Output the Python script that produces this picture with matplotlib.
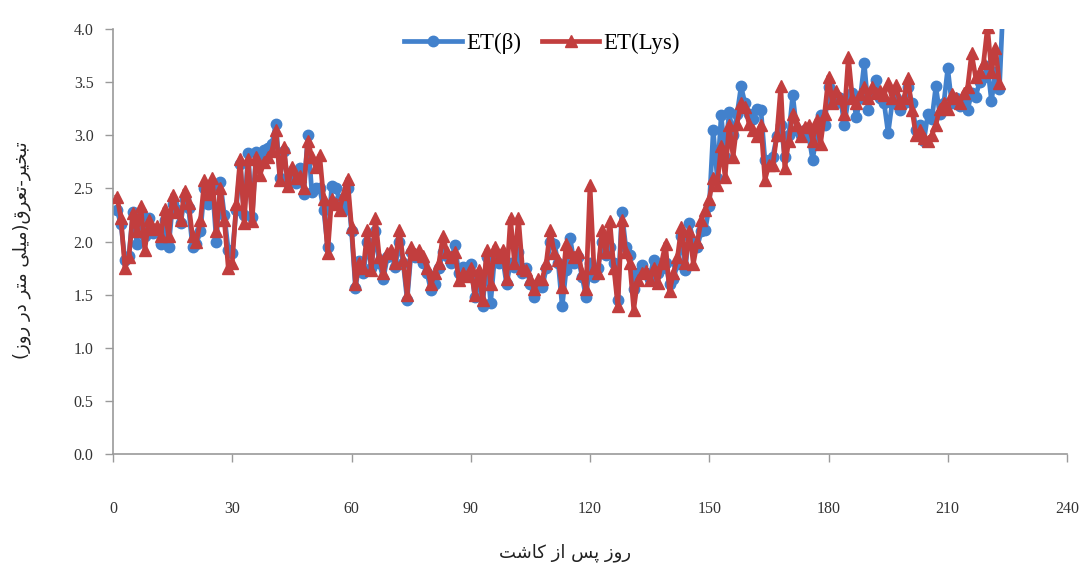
import matplotlib
matplotlib.use("Agg")
import matplotlib.pyplot as plt
from matplotlib.ticker import FormatStrFormatter

# ---- data ----
days_beta = list(range(1, 225))
et_beta = [
    2.30, 2.16, 1.83, 1.86, 2.28, 1.98, 2.28, 2.05, 2.22, 2.08,
    2.10, 1.98, 2.20, 1.95, 2.35, 2.30, 2.17, 2.40, 2.32, 1.95,
    1.98, 2.10, 2.50, 2.35, 2.52, 2.00, 2.56, 2.25, 1.92, 1.89,
    2.30, 2.73, 2.25, 2.83, 2.23, 2.84, 2.80, 2.86, 2.88, 2.92,
    3.11, 2.60, 2.85, 2.55, 2.65, 2.55, 2.69, 2.45, 3.00, 2.47,
    2.50, 2.50, 2.30, 1.95, 2.52, 2.50, 2.40, 2.30, 2.50, 2.10,
    1.56, 1.82, 1.70, 2.00, 1.75, 2.10, 1.80, 1.65, 1.85, 1.88,
    1.76, 2.00, 1.80, 1.45, 1.90, 1.85, 1.85, 1.80, 1.70, 1.54,
    1.60, 1.75, 1.90, 1.86, 1.80, 1.97, 1.70, 1.76, 1.72, 1.79,
    1.48, 1.65, 1.39, 1.85, 1.42, 1.85, 1.80, 1.85, 1.60, 1.80,
    1.76, 1.90, 1.70, 1.75, 1.60, 1.48, 1.60, 1.57, 1.75, 2.00,
    1.98, 1.80, 1.39, 1.73, 2.03, 1.80, 1.85, 1.67, 1.48, 1.80,
    1.67, 1.75, 2.00, 1.87, 1.95, 1.80, 1.45, 2.28, 1.95, 1.87,
    1.55, 1.70, 1.78, 1.70, 1.65, 1.83, 1.70, 1.75, 1.80, 1.60,
    1.65, 1.79, 2.05, 1.73, 2.17, 2.00, 1.95, 2.10, 2.11, 2.33,
    3.05, 2.60, 3.19, 2.80, 3.22, 3.00, 3.20, 3.46, 3.30, 3.20,
    3.15, 3.25, 3.24, 2.77, 2.73, 2.80, 2.99, 3.10, 2.80, 3.00,
    3.38, 3.05, 3.00, 3.05, 3.00, 2.77, 3.00, 3.19, 3.10, 3.45,
    3.33, 3.30, 3.35, 3.10, 3.35, 3.40, 3.17, 3.35, 3.68, 3.24,
    3.40, 3.52, 3.35, 3.30, 3.02, 3.30, 3.35, 3.24, 3.30, 3.45,
    3.30, 3.05, 3.10, 2.95, 3.20, 3.15, 3.46, 3.20, 3.30, 3.63,
    3.30, 3.35, 3.28, 3.30, 3.24, 3.40, 3.36, 3.50, 3.55, 3.65,
    3.32, 3.60, 3.44, 4.30,
]

days_lys = list(range(1, 224))
et_lys = [
    2.42, 2.22, 1.75, 1.85, 2.27, 2.10, 2.33, 1.92, 2.20, 2.12,
    2.15, 2.05, 2.31, 2.05, 2.44, 2.28, 2.20, 2.48, 2.36, 2.05,
    2.00, 2.20, 2.58, 2.45, 2.60, 2.10, 2.50, 2.20, 1.75, 1.80,
    2.35, 2.78, 2.17, 2.78, 2.19, 2.80, 2.63, 2.75, 2.80, 2.85,
    3.05, 2.58, 2.89, 2.52, 2.70, 2.60, 2.62, 2.50, 2.95, 2.80,
    2.70, 2.81, 2.40, 1.89, 2.40, 2.35, 2.30, 2.45, 2.59, 2.14,
    1.60, 1.80, 1.75, 2.11, 1.73, 2.22, 1.85, 1.70, 1.89, 1.92,
    1.80, 2.11, 1.83, 1.50, 1.95, 1.88, 1.92, 1.86, 1.75, 1.60,
    1.70, 1.80, 2.05, 1.90, 1.85, 1.90, 1.64, 1.70, 1.68, 1.75,
    1.50, 1.73, 1.45, 1.92, 1.60, 1.95, 1.85, 1.92, 1.65, 2.22,
    1.80, 2.22, 1.75, 1.73, 1.65, 1.55, 1.65, 1.65, 1.80, 2.11,
    1.89, 1.83, 1.57, 1.98, 1.90, 1.85, 1.90, 1.70, 1.55, 2.53,
    1.75, 1.70, 2.11, 1.90, 2.19, 1.75, 1.39, 2.20, 1.90, 1.80,
    1.36, 1.64, 1.70, 1.72, 1.64, 1.75, 1.61, 1.80, 1.98, 1.53,
    1.70, 1.85, 2.14, 1.80, 2.10, 1.79, 2.00, 2.20, 2.30, 2.40,
    2.60, 2.53, 2.90, 2.61, 3.10, 2.80, 3.11, 3.30, 3.27, 3.11,
    3.05, 2.99, 3.10, 2.58, 2.72, 2.72, 3.00, 3.46, 2.69, 2.95,
    3.20, 3.10, 2.99, 3.08, 3.10, 2.95, 3.14, 2.92, 3.20, 3.55,
    3.30, 3.42, 3.35, 3.20, 3.74, 3.35, 3.30, 3.39, 3.45, 3.35,
    3.45, 3.40, 3.42, 3.38, 3.49, 3.35, 3.47, 3.30, 3.35, 3.54,
    3.24, 3.00, 3.05, 2.97, 2.95, 3.00, 3.10, 3.25, 3.30, 3.25,
    3.39, 3.35, 3.30, 3.40, 3.45, 3.77, 3.55, 3.60, 3.68, 4.02,
    3.60, 3.82, 3.49,
]

x_ticks = [0, 30, 60, 90, 120, 150, 180, 210, 240]
y_ticks = [0.0, 0.5, 1.0, 1.5, 2.0, 2.5, 3.0, 3.5, 4.0]
label_beta = "ET(\u03b2)"
label_lys = "ET(Lys)"

# Persian labels written in visual order with presentation forms
xlabel_fa = ("\uFE96\uFEB7\uFE8E\uFEDB" + " " + "\uFEAF\uFE8D" + " "
             + "\uFEB2\uFB58" + " " + "\uFEAF\uFEED\uFEAD")
ylabel_fa = ("(" + "\uFEAF\uFEED\uFEAD" + " " + "\uFEAD\uFEA9" + " "
             + "\uFEAE\uFE98\uFEE3" + " " + "\uFEF0\uFEE0\uFEF4\uFEE3"
             + ")" + "\uFED5\uFEAE\uFECC\uFE97" + "-"
             + "\uFEAE\uFEF4\uFEA8\uFE92\uFE97")

blue = "#4281CC"
red = "#C23E3E"

plt.rcParams["font.family"] = ["Liberation Serif", "DejaVu Serif"]

fig = plt.figure(figsize=(10.84, 5.72), dpi=100)
ax = fig.add_axes([113 / 1084, 1 - 454 / 572, (1067 - 113) / 1084, (454 - 29) / 572])

ax.plot(days_beta, et_beta, color=blue, lw=3.4, marker="o", ms=7.5,
        mec=blue, mfc=blue, label=label_beta, zorder=2, clip_on=True)
ax.plot(days_lys, et_lys, color=red, lw=3.4, marker="^", ms=8,
        mec=red, mfc=red, label=label_lys, zorder=3, clip_on=True)

ax.set_xlim(0, 240)
ax.set_ylim(0, 4.0)
ax.set_xticks(x_ticks)
ax.set_yticks(y_ticks)
ax.yaxis.set_major_formatter(FormatStrFormatter("%.1f"))

for s in ["top", "right"]:
    ax.spines[s].set_visible(False)
for s in ["left", "bottom"]:
    ax.spines[s].set_color("#9A9A9A")
    ax.spines[s].set_linewidth(1.2)

ax.tick_params(axis="x", direction="out", length=6, width=1, color="#9A9A9A",
               pad=28, labelsize=11.5, labelcolor="#333333")
ax.tick_params(axis="y", direction="out", length=6, width=1, color="#9A9A9A",
               pad=8, labelsize=11.5, labelcolor="#333333")

leg = ax.legend(loc="center", bbox_to_anchor=(0.45, 0.965), ncol=2,
                frameon=False, fontsize=16.5, handlelength=2.5,
                columnspacing=0.9, handletextpad=0.2)

fig.text(565 / 1084, 1 - 553 / 572, xlabel_fa, family=["DejaVu Sans"],
         fontsize=13, ha="center", va="center", color="#222222")
fig.text(22 / 1084, 1 - 250 / 572, ylabel_fa, family=["DejaVu Sans"],
         fontsize=13, ha="center", va="center", rotation=90, color="#222222")

fig.savefig("out.png", dpi=100, facecolor="white")
